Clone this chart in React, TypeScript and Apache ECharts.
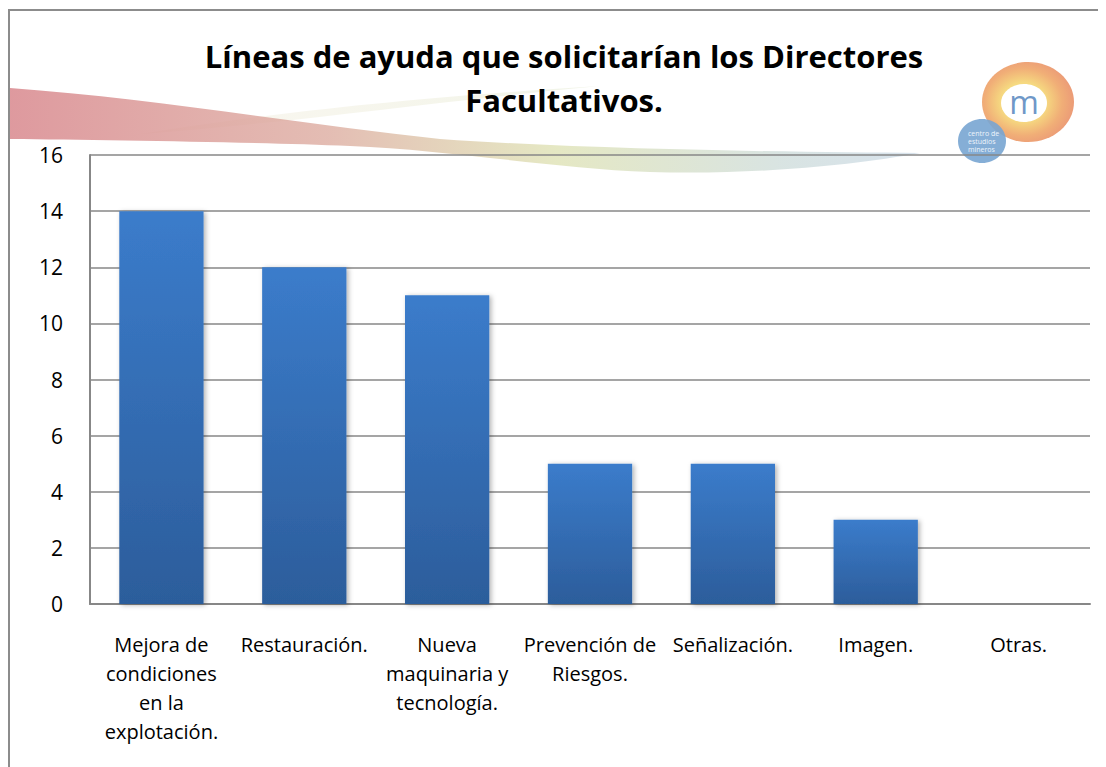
import React, { useEffect, useRef } from "react";
import * as echarts from "echarts";

const categories = [
  "Mejora de\ncondiciones\nen la\nexplotación.",
  "Restauración.",
  "Nueva\nmaquinaria y\ntecnología.",
  "Prevención de\nRiesgos.",
  "Señalización.",
  "Imagen.",
  "Otras.",
];
const values = [14, 12, 11, 5, 5, 3, 0];
const titleLines = ["Líneas de ayuda que solicitarían los Directores", "Facultativos."];

const FONT = "'Open Sans', 'Noto Sans', sans-serif";

echarts.graphic.registerShape(
  "swoosh",
  echarts.graphic.extendPath(
    "M10 88 C150 98 300 124 440 139 C600 150 800 152 920 153 C850 166 750 175 650 172 C550 168 450 150 350 146 C250 142 100 140 10 139 Z",
    {}
  )
);
echarts.graphic.registerShape(
  "swoosh2",
  echarts.graphic.extendPath(
    "M140 134 C250 116 400 98 600 86 C430 102 300 122 140 134 Z",
    {}
  )
);

export default function App() {
  const ref = useRef<HTMLDivElement>(null);
  useEffect(() => {
    if (!ref.current) return;
    const chart = echarts.init(ref.current, undefined, { renderer: "svg" });
    chart.setOption({
      animation: false,
      backgroundColor: "#ffffff",
      title: {
        text: titleLines.join("\n"),
        left: 551,
        top: 21,
        textAlign: "center",
        textStyle: {
          fontFamily: FONT,
          fontWeight: "bold",
          fontSize: 31,
          lineHeight: 44,
          color: "#000000",
        },
      },
      grid: { left: 82, right: 16, top: 147, bottom: 163, containLabel: false },
      xAxis: {
        type: "category",
        data: categories,
        axisLine: { show: true, lineStyle: { color: "#878787", width: 2 } },
        axisTick: { show: false },
        axisLabel: {
          interval: 0,
          fontFamily: FONT,
          fontSize: 20,
          lineHeight: 29,
          color: "#000000",
          margin: 26,
        },
      },
      yAxis: {
        type: "value",
        min: 0,
        max: 16,
        interval: 2,
        axisLine: { show: true, lineStyle: { color: "#878787", width: 2 } },
        axisTick: { show: false },
        splitLine: { lineStyle: { color: "#878787", width: 1.5 } },
        axisLabel: {
          fontFamily: FONT,
          fontSize: 21,
          color: "#000000",
          margin: 27,
        },
      },
      graphic: [
        {
          type: "rect",
          silent: true,
          shape: { x: 1, y: 2, width: 1200, height: 900 },
          style: { fill: "none", stroke: "#8c8c8c", lineWidth: 2 },
          z: -10,
        },
        {
          type: "group",
          x: -8,
          y: -8,
          silent: true,
          z: -5,
          children: [
            {
              type: "swoosh2",
              style: {
                fill: new echarts.graphic.LinearGradient(0, 0, 1, 0, [
                  { offset: 0, color: "rgba(235,225,200,0.25)" },
                  { offset: 1, color: "rgba(225,232,205,0.45)" },
                ]),
              },
            },
            {
              type: "swoosh",
              style: {
                fill: new echarts.graphic.LinearGradient(0, 0, 1, 0, [
                  { offset: 0, color: "rgba(214,128,134,0.8)" },
                  { offset: 0.35, color: "rgba(220,170,158,0.78)" },
                  { offset: 0.6, color: "rgba(218,222,170,0.7)" },
                  { offset: 0.85, color: "rgba(200,216,214,0.7)" },
                  { offset: 1, color: "rgba(190,208,224,0.6)" },
                ]),
              },
            },
            {
              type: "ellipse",
              shape: { cx: 1028, cy: 102, rx: 46, ry: 40 },
              style: {
                fill: new echarts.graphic.RadialGradient(0.45, 0.5, 0.6, [
                  { offset: 0.4, color: "#f4d36a" },
                  { offset: 0.7, color: "#eea05f" },
                  { offset: 1, color: "#e6815f" },
                ]),
                opacity: 0.85,
              },
            },
            {
              type: "ellipse",
              shape: { cx: 1024, cy: 103, rx: 23, ry: 19 },
              style: { fill: "#ffffff" },
            },
            {
              type: "text",
              style: {
                x: 1024,
                y: 101,
                text: "m",
                fontFamily: FONT,
                fontSize: 32,
                fill: "#6f98c8",
                align: "center",
                verticalAlign: "middle",
              },
            },
            {
              type: "ellipse",
              shape: { cx: 982, cy: 141, rx: 24, ry: 22 },
              style: { fill: "rgba(120,165,210,0.9)" },
            },
            {
              type: "text",
              style: {
                x: 968,
                y: 141,
                text: "centro de\nestudios\nmineros",
                fontFamily: FONT,
                fontSize: 7,
                lineHeight: 8,
                fill: "#eef4fb",
                align: "left",
                verticalAlign: "middle",
              },
            },
          ],
        },
      ],
      series: [
        {
          type: "bar",
          data: values,
          barWidth: "59%",
          itemStyle: {
            color: new echarts.graphic.LinearGradient(0, 0, 0, 1, [
              { offset: 0, color: "#3b7ccb" },
              { offset: 1, color: "#2c5d9b" },
            ]),
            shadowBlur: 5,
            shadowColor: "rgba(0,0,0,0.3)",
            shadowOffsetX: 2,
            shadowOffsetY: 1,
          },
        },
      ],
    });
    return () => chart.dispose();
  }, []);
  return <div ref={ref} style={{ width: 1098, height: 759 }} />;
}
